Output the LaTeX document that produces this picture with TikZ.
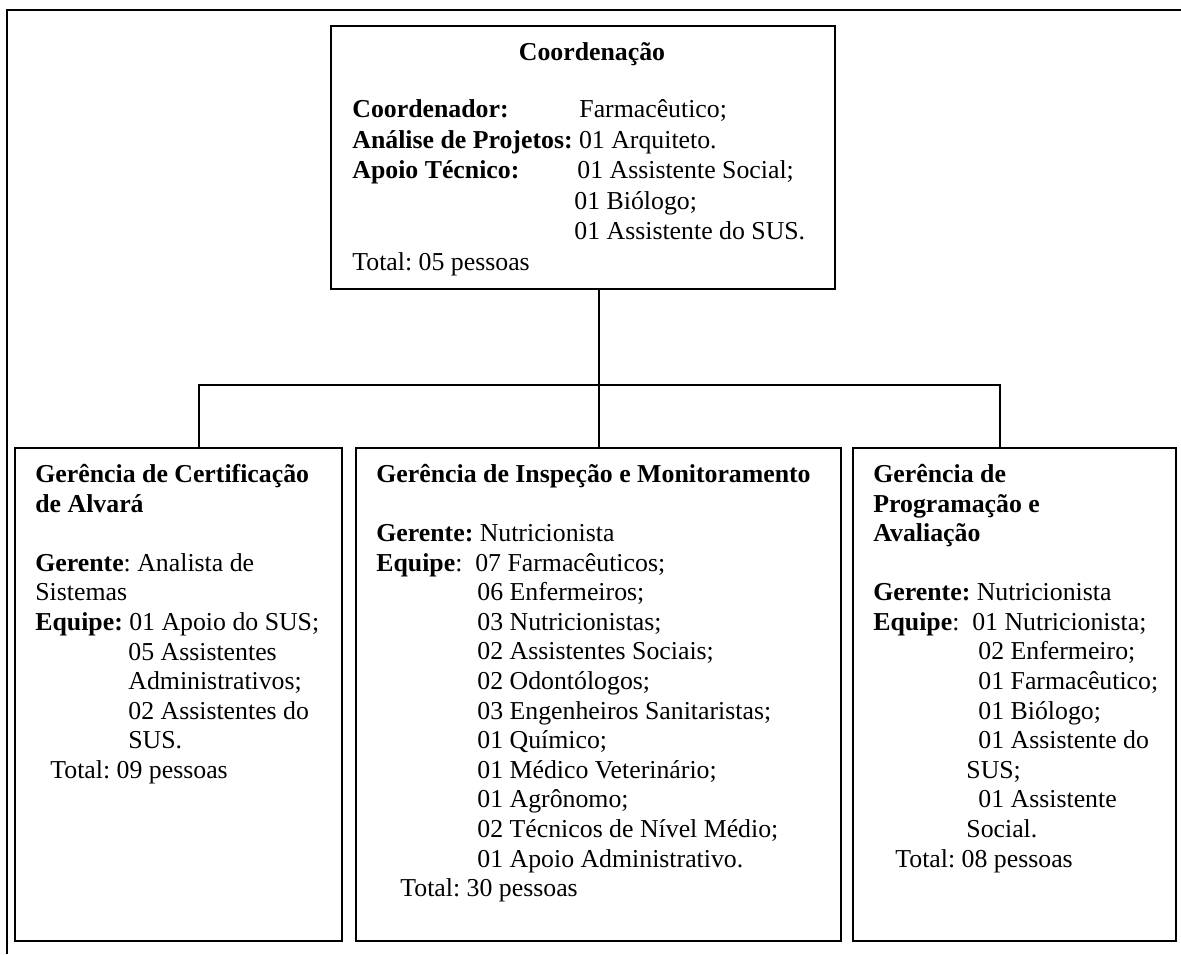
\documentclass[tikz,border=0pt]{standalone}
\usepackage{fontspec}
\setmainfont{Liberation Serif}
\usepackage{tikz}
\usetikzlibrary{positioning, fit}
\newcommand{\boxfont}{\fontsize{12.9}{14.8}\selectfont}
\frenchspacing

\begin{document}
\begin{tikzpicture}[x=0.5pt, y=-0.5pt,
    unit/.style={rectangle, draw, line width=1pt, inner sep=0pt},
    txt/.style={anchor=base west, inner sep=0pt, font=\boxfont},
    ttl/.style={anchor=base west, inner sep=0pt, font=\boxfont\bfseries},
    link/.style={line width=0.8pt}]

    \useasboundingbox (0,0) rectangle (1181,954);

    % outer frame (only top and left visible)
    \draw[line width=1pt] (7,954) -- (7,10) -- (1181,10);

    % Coordination box
    \node[unit, fit={(331,26) (835,289)}] (coord) {};
    \node[ttl, anchor=base] (ct) at (592,60) {Coordenação};
    \node[txt] (c1) at (352,117) {\textbf{Coordenador:}};
    \node[txt] (c1v) at (579,117) {Farmacêutico;};
    \node[txt] (c2) at (352,148) {\textbf{Análise de Projetos:} 01 Arquiteto.};
    \node[txt] (c3) at (352,178) {\textbf{Apoio Técnico:}};
    \node[txt] (c3v) at (577,178) {01 Assistente Social;};
    \node[txt] (c4) at (574,209) {01 Biólogo;};
    \node[txt] (c5) at (574,239) {01 Assistente do SUS.};
    \node[txt] (c6) at (352,270) {Total: 05 pessoas};

    % Gerencia de Certificacao de Alvara
    \node[unit, fit={(15,448) (342,941)}] (gca) {};
    \node[ttl] (a1) at (35,482) {Gerência de Certificação};
    \node[ttl] (a2) at (35,512) {de Alvará};
    \node[txt] (a3) at (35,571) {\textbf{Gerente}: Analista de};
    \node[txt] (a4) at (35,600) {Sistemas};
    \node[txt] (a5) at (35,630) {\textbf{Equipe:} 01 Apoio do SUS;};
    \node[txt] (a6) at (128,660) {05 Assistentes};
    \node[txt] (a7) at (128,689) {Administrativos;};
    \node[txt] (a8) at (128,719) {02 Assistentes do};
    \node[txt] (a9) at (128,748) {SUS.};
    \node[txt] (a10) at (50,778) {Total: 09 pessoas};

    % Gerencia de Inspecao e Monitoramento
    \node[unit, fit={(356,448) (841,941)}] (gim) {};
    \node[ttl] (m1) at (376,482) {Gerência de Inspeção e Monitoramento};
    \node[txt] (m2) at (376,541) {\textbf{Gerente:} Nutricionista};
    \node[txt] (m3) at (376,571) {\textbf{Equipe}:\ \ 07 Farmacêuticos;};
    \node[txt] (m4) at (477,600) {06 Enfermeiros;};
    \node[txt] (m5) at (477,630) {03 Nutricionistas;};
    \node[txt] (m6) at (477,659) {02 Assistentes Sociais;};
    \node[txt] (m7) at (477,689) {02 Odontólogos;};
    \node[txt] (m8) at (477,719) {03 Engenheiros Sanitaristas;};
    \node[txt] (m9) at (477,748) {01 Químico;};
    \node[txt] (m10) at (477,778) {01 Médico Veterinário;};
    \node[txt] (m11) at (477,807) {01 Agrônomo;};
    \node[txt] (m12) at (477,837) {02 Técnicos de Nível Médio;};
    \node[txt] (m13) at (477,867) {01 Apoio Administrativo.};
    \node[txt] (m14) at (400,896) {Total: 30 pessoas};

    % Gerencia de Programacao e Avaliacao
    \node[unit, fit={(853,448) (1176,941)}] (gpa) {};
    \node[ttl] (p1) at (873,482) {Gerência de};
    \node[ttl] (p2) at (873,512) {Programação e};
    \node[ttl] (p3) at (873,541) {Avaliação};
    \node[txt] (p4) at (873,600) {\textbf{Gerente:} Nutricionista};
    \node[txt] (p5) at (873,630) {\textbf{Equipe}:\ \ 01 Nutricionista;};
    \node[txt] (p6) at (978,659) {02 Enfermeiro;};
    \node[txt] (p7) at (978,689) {01 Farmacêutico;};
    \node[txt] (p8) at (978,719) {01 Biólogo;};
    \node[txt] (p9) at (978,748) {01 Assistente do};
    \node[txt] (p10) at (966,778) {SUS;};
    \node[txt] (p11) at (978,807) {01 Assistente};
    \node[txt] (p12) at (966,837) {Social.};
    \node[txt] (p13) at (895,867) {Total: 08 pessoas};

    % connectors
    \coordinate (bus) at (599,385);
    \coordinate (busL) at (199,385);
    \coordinate (busR) at (1000,385);
    \draw[link] (coord.south -| bus) -- (bus);
    \draw[link] (busL |- gca.north) -- (busL) -- (busR) -- (busR |- gpa.north);
    \draw[link] (bus) -- (bus |- gim.north);

\end{tikzpicture}
\end{document}
